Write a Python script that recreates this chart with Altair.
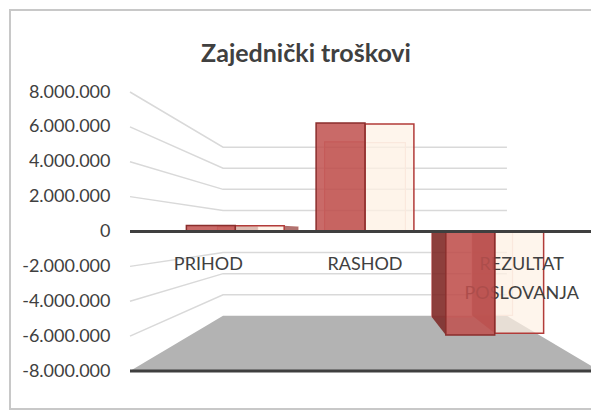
import altair as alt
import pandas as pd

# ---------------- data ----------------
categories = ["PRIHOD", "RASHOD", "REZULTAT POSLOVANJA"]
series_names = ["Serija 1", "Serija 2"]
series_1 = [410000, 7520000, -7170000]
series_2 = [400000, 7450000, -7040000]
y_ticks = [8000000, 6000000, 4000000, 2000000, 0,
           -2000000, -4000000, -6000000, -8000000]
title_text = "Zajednički troškovi"

# ---------------- 3-D look (style parameters) ----------------
WALL = 0.604       # depth scale of the back wall
BAR_FRONT = 0.828  # depth scale of the bars' front faces
BAR_BACK = 0.684   # depth scale of the bars' back faces
BAR_W = 0.377      # width of one bar, in category units
N = len(categories)
CX = N / 2.0
Y_MIN, Y_MAX = -8000000, 8000000


def proj(x, s):
    return CX + (x - CX) * s


# bars
bar_rows, side_rows = [], []
for i, cat in enumerate(categories):
    for s, (name, vals) in enumerate(zip(series_names, [series_1, series_2])):
        v = vals[i]
        x0 = i + 0.5 - BAR_W if s == 0 else i + 0.5
        x1 = x0 + BAR_W
        bar_rows.append(dict(
            cat=cat, series=name, value=v,
            fx0=proj(x0, BAR_FRONT), fx1=proj(x1, BAR_FRONT), fy=v * BAR_FRONT,
            bx0=proj(x0, BAR_BACK), bx1=proj(x1, BAR_BACK), by=v * BAR_BACK))
        gid = f"{i}-{s}"
        if x1 <= CX:   # right side face visible
            side_rows += [dict(g=gid, series=name, x=proj(x1, BAR_BACK), y=0, y2=v * BAR_BACK),
                          dict(g=gid, series=name, x=proj(x1, BAR_FRONT), y=0, y2=v * BAR_FRONT)]
        elif x0 >= CX:  # left side face visible
            side_rows += [dict(g=gid, series=name, x=proj(x0, BAR_BACK), y=0, y2=v * BAR_BACK),
                          dict(g=gid, series=name, x=proj(x0, BAR_FRONT), y=0, y2=v * BAR_FRONT)]
bars = pd.DataFrame(bar_rows)
sides = pd.DataFrame(side_rows)

# perspective gridlines (front-left edge -> back wall)
grid_rows = []
for v in y_ticks:
    if v == 0 or v == Y_MIN:
        continue
    grid_rows += [dict(v=v, o=0, x=0.0, y=v),
                  dict(v=v, o=1, x=proj(0, WALL), y=v * WALL),
                  dict(v=v, o=2, x=proj(N, WALL), y=v * WALL)]
grid = pd.DataFrame(grid_rows)

floor = pd.DataFrame(dict(
    x=[0.0, proj(0, WALL), proj(N, WALL), float(N)],
    y=[Y_MIN, Y_MIN * WALL, Y_MIN * WALL, Y_MIN],
    y2=[Y_MIN] * 4))

rules = pd.DataFrame(dict(y=[0, Y_MIN], x=[0.0, 0.0], x2=[float(N), float(N)]))
cats = pd.DataFrame(dict(cat=categories, x=[i + 0.5 for i in range(N)]))

# ---------------- encodings ----------------
FONT = "Lato"
TXT = "#404040"
XS = alt.Scale(domain=[0, N], range=[0, 470])
YS = alt.Scale(domain=[Y_MIN, Y_MAX], nice=False, zero=False)
Y_AXIS = alt.Axis(
    values=y_ticks, title=None, grid=False, ticks=False, tickSize=0,
    domain=False, labelPadding=20, labelFont=FONT, labelFontSize=18,
    labelColor=TXT, labelFlush=False, labelOverlap=False,
    labelExpr="(datum.value < 0 ? '-' : '') + replace(format(abs(datum.value), ','), /,/g, '.')")


def X(f):
    return alt.X(f, type="quantitative", scale=XS, axis=None)


def Y(f):
    return alt.Y(f, type="quantitative", scale=YS, axis=Y_AXIS)


front_fill = {series_names[0]: "#c0504d", series_names[1]: "#fdf1e4"}
front_stroke = {series_names[0]: "#8a2e2c", series_names[1]: "#b23b39"}
front_opacity = {series_names[0]: 0.85, series_names[1]: 0.7}
back_stroke = {series_names[0]: "#e39a98", series_names[1]: "#f1d3cb"}
side_fill = {series_names[0]: "#7b2422", series_names[1]: "#a35b58"}

frame = alt.Chart(pd.DataFrame({"a": [0]})).mark_rect(
    fillOpacity=0, stroke="#c8c8c8", strokeWidth=2
).encode(x=alt.value(-120), x2=alt.value(467), y=alt.value(-82), y2=alt.value(317))

floor_l = alt.Chart(floor).mark_area(color="#b3b3b3", opacity=1).encode(
    x=X("x"), y=Y("y"), y2="y2:Q")

grid_l = alt.Chart(grid).mark_line(color="#d9d9d9", strokeWidth=1.5).encode(
    x=X("x"), y=Y("y"), detail="v:N", order="o:Q")

cat_l = alt.Chart(cats).mark_text(
    font=FONT, fontSize=18, color=TXT, align="center", baseline="alphabetic",
    lineBreak=" ", lineHeight=29
).encode(x=X("x"), y=alt.value(178), text="cat:N")


def front(name):
    return alt.Chart(bars).transform_filter(alt.datum.series == name).mark_rect(
        fill=front_fill[name], fillOpacity=front_opacity[name],
        stroke=front_stroke[name], strokeWidth=1.5
    ).encode(x=X("fx0"), x2="fx1:Q", y=Y("fy"), y2=alt.datum(0))


bar_layers = []
for name in series_names:
    bar_layers.append(
        alt.Chart(bars).transform_filter(alt.datum.series == name).mark_rect(
            fill=front_fill[name], fillOpacity=0.25,
            stroke=back_stroke[name], strokeWidth=1.2
        ).encode(x=X("bx0"), x2="bx1:Q", y=Y("by"), y2=alt.datum(0)))
for name in series_names:
    sub = sides[sides["series"] == name]
    if len(sub):
        bar_layers.append(
            alt.Chart(sub).mark_area(color=side_fill[name], opacity=0.85).encode(
                x=X("x"), y=Y("y"), y2="y2:Q", detail="g:N"))
bar_layers.append(front(series_names[1]))
bar_layers.append(cat_l)
bar_layers.append(front(series_names[0]))

rules_l = alt.Chart(rules).mark_rule(color="#3f3f3f", strokeWidth=3).encode(
    x=X("x"), x2="x2:Q", y=Y("y"))

title_l = alt.Chart(pd.DataFrame({"t": [title_text]})).mark_text(
    font=FONT, fontSize=25, fontWeight="bold", color=TXT,
    align="center", baseline="alphabetic"
).encode(x=alt.value(176), y=alt.value(-30), text="t:N")

chart = alt.layer(
    frame, floor_l, grid_l, *bar_layers, rules_l, title_l
).properties(
    width=461, height=279,
    padding={"left": 122, "top": 84, "right": 0, "bottom": 40},
    autosize=alt.AutoSizeParams(type="none"),
    background="white",
).configure_view(stroke=None)

chart.save("out.html", embed_options={"renderer": "svg", "actions": False})
